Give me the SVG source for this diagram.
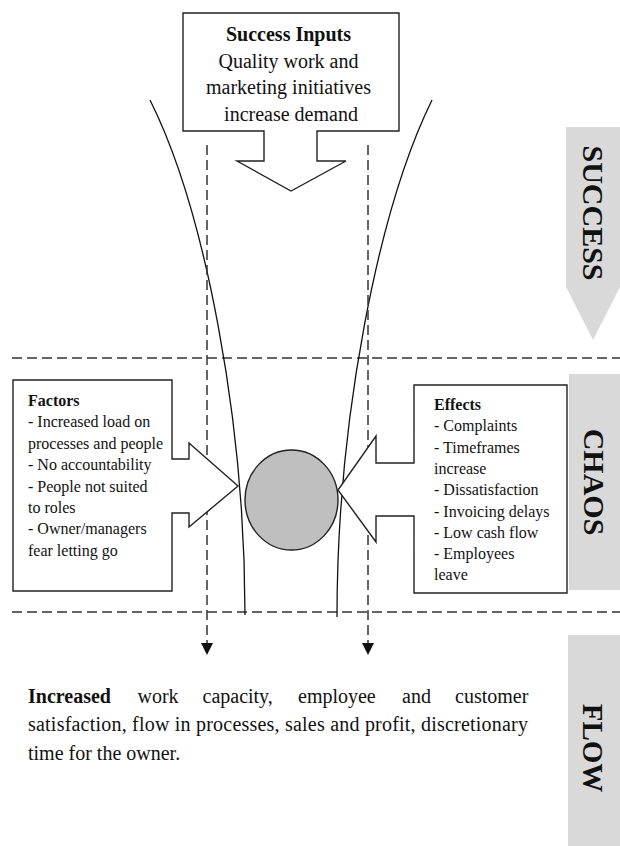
<svg xmlns="http://www.w3.org/2000/svg" width="620" height="846" viewBox="0 0 620 846">
<style>
.box{fill:#fff;stroke:#222;stroke-width:1.4}
.curve{fill:none;stroke:#111;stroke-width:1.3}
.dash{fill:none;stroke:#333;stroke-width:1.5;stroke-dasharray:10,5}
.bar{fill:#d9d9d9}
.t{font-family:"Liberation Serif","Times New Roman",serif;fill:#111}
.b{font-weight:bold}
.side{font-family:"Liberation Serif","Times New Roman",serif;font-weight:bold;fill:#111;text-anchor:middle}
</style>
<defs>
<marker id="ah" viewBox="0 0 10 10" refX="10" refY="5" markerWidth="12" markerHeight="12" markerUnits="userSpaceOnUse" orient="auto">
<path d="M0,0 L10,5 L0,10 Z" fill="#111"/>
</marker>
</defs>
<rect width="620" height="846" fill="#fff"/>

<g id="side-labels">
<g id="success-label">
<path class="bar" d="M566,127 H620 V287 L593,340 L566,287 Z"/>
<text class="side" font-size="30" transform="translate(583,213) rotate(90)">SUCCESS</text>
</g>
<g id="chaos-label">
<rect class="bar" x="569" y="374" width="51" height="216"/>
<text class="side" font-size="30" transform="translate(584,482) rotate(90)">CHAOS</text>
</g>
<g id="flow-label">
<rect class="bar" x="568" y="635" width="52" height="211"/>
<text class="side" font-size="29" transform="translate(583,748) rotate(90)">FLOW</text>
</g>
</g>

<g id="connectors">
<line class="dash" x1="12" y1="358" x2="620" y2="358"/>
<line class="dash" x1="12" y1="612" x2="620" y2="612"/>
<path class="curve" d="M150,100 C205,210 245,420 245,615"/>
<path class="curve" d="M432,100 C378,210 337,420 337,617"/>
<line class="dash" x1="207" y1="145" x2="207" y2="655" marker-end="url(#ah)"/>
<line class="dash" x1="368" y1="145" x2="368" y2="655" marker-end="url(#ah)"/>
</g>

<g id="success-inputs">
<path class="box" d="M183,13 H399 V131 H317 V161 H346 L291,191 L237,161 H264 V131 H183 Z"/>
<text class="t" font-size="20" text-anchor="middle">
<tspan class="b" x="291" y="41">Success Inputs</tspan>
<tspan x="291" y="68">Quality work and</tspan>
<tspan x="291" y="94">marketing initiatives</tspan>
<tspan x="291" y="121">increase demand</tspan>
</text>
</g>

<g id="factors">
<path class="box" d="M13,380 H172 V459 H189 V443 L238,486 L189,527 V513 H172 V591 H13 Z"/>
<text class="t" font-size="16">
<tspan class="b" x="28" y="406">Factors</tspan>
<tspan x="28" y="427.4">- Increased load on</tspan>
<tspan x="28" y="448.8">processes and people</tspan>
<tspan x="28" y="470.2">- No accountability</tspan>
<tspan x="28" y="491.6">- People not suited</tspan>
<tspan x="28" y="513">to roles</tspan>
<tspan x="28" y="534.4">- Owner/managers</tspan>
<tspan x="28" y="555.8">fear letting go</tspan>
</text>
</g>

<g id="effects">
<path class="box" d="M567,385 V593 H414 V516 H376 V542 L338,490 L376,436 V463 H414 V385 Z"/>
<text class="t" font-size="16">
<tspan class="b" x="434" y="410">Effects</tspan>
<tspan x="434" y="431.3">- Complaints</tspan>
<tspan x="434" y="452.6">- Timeframes</tspan>
<tspan x="434" y="473.9">increase</tspan>
<tspan x="434" y="495.2">- Dissatisfaction</tspan>
<tspan x="434" y="516.5">- Invoicing delays</tspan>
<tspan x="434" y="537.8">- Low cash flow</tspan>
<tspan x="434" y="559.1">- Employees</tspan>
<tspan x="434" y="580.4">leave</tspan>
</text>
</g>

<g id="core">
<ellipse cx="291.5" cy="500" rx="46.5" ry="50" fill="#bfbfbf" stroke="#222" stroke-width="1.4"/>
</g>

<g id="outcome">
<text class="t" font-size="20" y="703">
<tspan class="b" x="28">Increased</tspan>
<tspan x="137.5">work</tspan>
<tspan x="202.5">capacity,</tspan>
<tspan x="298">employee</tspan>
<tspan x="402">and</tspan>
<tspan x="455">customer</tspan>
</text>
<text class="t" font-size="20" x="28" y="731" textLength="500" lengthAdjust="spacing">satisfaction, flow in processes, sales and profit, discretionary</text>
<text class="t" font-size="20" x="28" y="760">time for the owner.</text>
</g>
</svg>
